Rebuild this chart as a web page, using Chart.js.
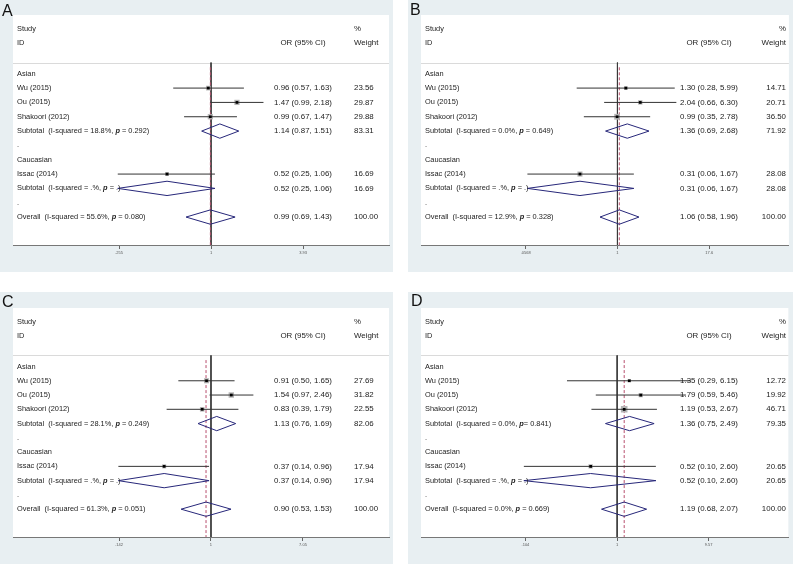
<!DOCTYPE html>
<html lang="en">
<head>
<meta charset="UTF-8">
<title>Forest plots A-D</title>
<script src="https://cdn.jsdelivr.net/npm/chart.js"></script>
<style>
  body { margin: 0; background: #fff; font-family: "Liberation Sans", Arial, sans-serif; }
  #wrap { position: relative; width: 800px; height: 565px; overflow: hidden; }
  canvas { position: absolute; }
  .tag { position: absolute; font-size: 16px; line-height: 1; color: #111; }
</style>
</head>
<body>
<div id="wrap">
  <canvas id="chartA" width="393" height="272" style="left:0;top:0"></canvas>
  <canvas id="chartB" width="385" height="272" style="left:408px;top:0"></canvas>
  <canvas id="chartC" width="393" height="272" style="left:0;top:292px"></canvas>
  <canvas id="chartD" width="385" height="272" style="left:408px;top:292px"></canvas>
  <div class="tag" style="left:2px;top:3px">A</div>
  <div class="tag" style="left:410px;top:2px">B</div>
  <div class="tag" style="left:2px;top:294px">C</div>
  <div class="tag" style="left:411px;top:293px">D</div>
</div>

<script>
  // study names and subgroups (same in every panel)
  const studies = ['Wu (2015)', 'Ou (2015)', 'Shakoori (2012)', 'Issac (2014)'];
  const groups = ['Asian', 'Caucasian'];

  // Panel A
  const orA = [0.96, 1.47, 0.99, 0.52];
  const loA = [0.57, 0.99, 0.67, 0.25];
  const hiA = [1.63, 2.18, 1.47, 1.06];
  const wtA = [23.56, 29.87, 29.88, 16.69];
  // pooled rows: Asian subtotal, Caucasian subtotal, overall
  const poolOrA = [1.14, 0.52, 0.99];
  const poolLoA = [0.87, 0.25, 0.69];
  const poolHiA = [1.51, 1.06, 1.43];
  const poolWtA = [83.31, 16.69, 100.00];
  const i2A = ['18.8', '.', '55.6'];
  const pA = [' = 0.292', ' = .', ' = 0.080'];
  const tickValA = [0.255, 1, 3.93];
  const tickLabA = ['.255', '1', '3.93'];

  // Panel B
  const orB = [1.30, 2.04, 0.99, 0.31];
  const loB = [0.28, 0.66, 0.35, 0.06];
  const hiB = [5.99, 6.30, 2.78, 1.67];
  const wtB = [14.71, 20.71, 36.50, 28.08];
  const poolOrB = [1.36, 0.31, 1.06];
  const poolLoB = [0.69, 0.06, 0.58];
  const poolHiB = [2.68, 1.67, 1.96];
  const poolWtB = [71.92, 28.08, 100.00];
  const i2B = ['0.0', '.', '12.9'];
  const pB = [' = 0.649', ' = .', ' = 0.328'];
  const tickValB = [0.0568, 1, 17.6];
  const tickLabB = ['.0568', '1', '17.6'];

  // Panel C
  const orC = [0.91, 1.54, 0.83, 0.37];
  const loC = [0.50, 0.97, 0.39, 0.14];
  const hiC = [1.65, 2.46, 1.79, 0.96];
  const wtC = [27.69, 31.82, 22.55, 17.94];
  const poolOrC = [1.13, 0.37, 0.90];
  const poolLoC = [0.76, 0.14, 0.53];
  const poolHiC = [1.69, 0.96, 1.53];
  const poolWtC = [82.06, 17.94, 100.00];
  const i2C = ['28.1', '.', '61.3'];
  const pC = [' = 0.249', ' = .', ' = 0.051'];
  const tickValC = [0.142, 1, 7.05];
  const tickLabC = ['.142', '1', '7.05'];

  // Panel D
  const orD = [1.35, 1.79, 1.19, 0.52];
  const loD = [0.29, 0.59, 0.53, 0.10];
  const hiD = [6.15, 5.46, 2.67, 2.60];
  const wtD = [12.72, 19.92, 46.71, 20.65];
  const poolOrD = [1.36, 0.52, 1.19];
  const poolLoD = [0.75, 0.10, 0.68];
  const poolHiD = [2.49, 2.60, 2.07];
  const poolWtD = [79.35, 20.65, 100.00];
  const i2D = ['0.0', '.', '0.0'];
  const pD = ['= 0.841', ' = .', ' = 0.669'];
  const tickValD = [0.104, 1, 9.57];
  const tickLabD = ['.104', '1', '9.57'];

  // row layout (y scale units, top to bottom)
  const studyRows = [1, 2, 3, 7];
  const groupRows = [0, 6];
  const poolRows = [4, 8, 10];
  const dotRows = [5, 9];
  const AXIS_ROW = 11.95;

  const FONT = '"Liberation Sans", Arial, sans-serif';
  const TXT = '7.4px ' + FONT;
  const NUM = '7.9px ' + FONT;
  const TXT_BI = 'italic bold 7.4px ' + FONT;

  const panels = [
    { id: 'chartA', or: orA, lo: loA, hi: hiA, wt: wtA, pOr: poolOrA, pLo: poolLoA, pHi: poolHiA, pWt: poolWtA,
      i2: i2A, p: pA, tv: tickValA, tl: tickLabA, xMin: 0.0527, xMax: 14.08,
      pad: { left: 13, top: 15, right: 4, bottom: 0 }, orX: 290, wtX: 341, wtAlign: 'left' },
    { id: 'chartB', or: orB, lo: loB, hi: hiB, wt: wtB, pOr: poolOrB, pLo: poolLoB, pHi: poolHiB, pWt: poolWtB,
      i2: i2B, p: pB, tv: tickValB, tl: tickLabB, xMin: 0.00216, xMax: 212,
      pad: { left: 13, top: 15, right: 3, bottom: 0 }, orX: 288, wtX: 365, wtAlign: 'right' },
    { id: 'chartC', or: orC, lo: loC, hi: hiC, wt: wtC, pOr: poolOrC, pLo: poolLoC, pHi: poolHiC, pWt: poolWtC,
      i2: i2C, p: pC, tv: tickValC, tl: tickLabC, xMin: 0.01494, xMax: 43.8,
      pad: { left: 13, top: 16, right: 4, bottom: 0 }, orX: 290, wtX: 341, wtAlign: 'left' },
    { id: 'chartD', or: orD, lo: loD, hi: hiD, wt: wtD, pOr: poolOrD, pLo: poolLoD, pHi: poolHiD, pWt: poolWtD,
      i2: i2D, p: pD, tv: tickValD, tl: tickLabD, xMin: 0.0079, xMax: 68.4,
      pad: { left: 13, top: 16, right: 3, bottom: 0 }, orX: 288, wtX: 365, wtAlign: 'right' }
  ];

  const fmtCI = (o, l, h) => o.toFixed(2) + ' (' + l.toFixed(2) + ', ' + h.toFixed(2) + ')';

  function drawRich(ctx, x, y, parts) {
    parts.forEach(([t, f]) => {
      ctx.font = f;
      ctx.fillText(t, x, y);
      x += ctx.measureText(t).width;
    });
  }

  // background, header line and all text columns
  function makeTextPlugin(P) {
    return {
      id: 'forestText',
      beforeDraw(chart) {
        const { ctx, chartArea: a } = chart;
        const y = chart.scales.y;
        ctx.save();
        ctx.fillStyle = '#e8eff2';
        ctx.fillRect(0, 0, chart.width, chart.height);
        ctx.fillStyle = '#fff';
        ctx.fillRect(a.left, a.top, a.right - a.left, a.bottom - a.top);
        ctx.strokeStyle = '#dadada';
        ctx.lineWidth = 1;
        const ys = Math.round(y.getPixelForValue(-0.78)) + 0.5;
        ctx.beginPath();
        ctx.moveTo(a.left, ys);
        ctx.lineTo(a.right, ys);
        ctx.stroke();
        ctx.restore();
      },
      afterDatasetsDraw(chart) {
        const { ctx, chartArea: a } = chart;
        const y = chart.scales.y;
        const xL = a.left + 4, xO = a.left + P.orX, xW = a.left + P.wtX;
        ctx.save();
        ctx.fillStyle = '#222';
        ctx.textBaseline = 'middle';
        const row = r => y.getPixelForValue(r);
        const wcol = (t, r) => { ctx.font = NUM; ctx.textAlign = P.wtAlign; ctx.fillText(t, xW, row(r)); };
        const ocol = (t, r) => { ctx.font = NUM; ctx.textAlign = 'center'; ctx.fillText(t, xO, row(r)); };
        const lcol = (t, r) => { ctx.font = TXT; ctx.textAlign = 'left'; ctx.fillText(t, xL, row(r)); };

        // header
        lcol('Study', -3.15);
        lcol('ID', -2.14);
        ocol('OR (95% CI)', -2.14);
        wcol('%', -3.15);
        wcol('Weight', -2.14);

        groupRows.forEach((r, i) => lcol(groups[i], r));
        dotRows.forEach(r => lcol('.', r));

        studyRows.forEach((r, i) => {
          lcol(studies[i], r);
          ocol(fmtCI(P.or[i], P.lo[i], P.hi[i]), r);
          wcol(P.wt[i].toFixed(2), r);
        });

        poolRows.forEach((r, i) => {
          ctx.textAlign = 'left';
          const lab = i === 2 ? 'Overall' : 'Subtotal';
          drawRich(ctx, xL, row(r), [
            [lab + '  (I-squared = ' + P.i2[i] + '%, ', TXT],
            ['p', TXT_BI],
            [P.p[i] + ')', TXT]
          ]);
          ocol(fmtCI(P.pOr[i], P.pLo[i], P.pHi[i]), r);
          wcol(P.pWt[i].toFixed(2), r);
        });
        ctx.restore();
      }
    };
  }

  function buildDatasets(P) {
    const ds = [];
    // line of no effect
    ds.push({ data: [{ x: 1, y: -0.78 }, { x: 1, y: AXIS_ROW }], showLine: true,
      borderColor: '#3a3a3a', borderWidth: 1, pointRadius: 0, order: 6 });
    // overall estimate (dashed)
    ds.push({ data: [{ x: P.pOr[2], y: -0.45 }, { x: P.pOr[2], y: AXIS_ROW }], showLine: true,
      borderColor: '#b8506e', borderDash: [3, 2], borderWidth: 1, pointRadius: 0, order: 5 });
    // weight boxes
    ds.push({ data: studyRows.map((r, i) => ({ x: P.or[i], y: r })), pointStyle: 'rect',
      pointRadius: P.wt.map(w => Math.sqrt(w) * 0.68), backgroundColor: '#b4b4b4', borderWidth: 0, order: 4 });
    // confidence intervals
    studyRows.forEach((r, i) => ds.push({ data: [{ x: P.lo[i], y: r }, { x: P.hi[i], y: r }], showLine: true,
      borderColor: '#333', borderWidth: 1, pointRadius: 0, order: 3 }));
    // point estimates
    ds.push({ data: studyRows.map((r, i) => ({ x: P.or[i], y: r })), pointStyle: 'rect',
      pointRadius: 1.9, backgroundColor: '#000', borderWidth: 0, order: 2 });
    // pooled diamonds
    poolRows.forEach((r, i) => ds.push({
      data: [{ x: P.pLo[i], y: r }, { x: P.pOr[i], y: r - 0.5 }, { x: P.pHi[i], y: r },
             { x: P.pOr[i], y: r + 0.5 }, { x: P.pLo[i], y: r }],
      showLine: true, borderColor: '#27277a', borderWidth: 1, pointRadius: 0, order: 1 }));
    return ds;
  }

  panels.forEach(P => {
    new Chart(document.getElementById(P.id), {
      type: 'scatter',
      data: { datasets: buildDatasets(P) },
      options: {
        responsive: false,
        animation: false,
        events: [],
        layout: { padding: P.pad },
        plugins: { legend: { display: false }, tooltip: { enabled: false } },
        scales: {
          x: {
            type: 'logarithmic', min: P.xMin, max: P.xMax,
            afterBuildTicks: s => { s.ticks = P.tv.map(v => ({ value: v })); },
            afterFit: s => { s.height = 27; },
            ticks: { callback: (v, i) => P.tl[i], font: { size: 4, family: FONT }, color: '#555',
                     padding: 1, maxRotation: 0, autoSkip: false },
            grid: { drawOnChartArea: false, drawTicks: true, tickLength: 4, color: '#666' },
            border: { color: '#777', width: 1 }
          },
          y: { type: 'linear', min: -4.1, max: 11.95, reverse: true, display: false }
        }
      },
      plugins: [makeTextPlugin(P)]
    });
  });
</script>
</body>
</html>
